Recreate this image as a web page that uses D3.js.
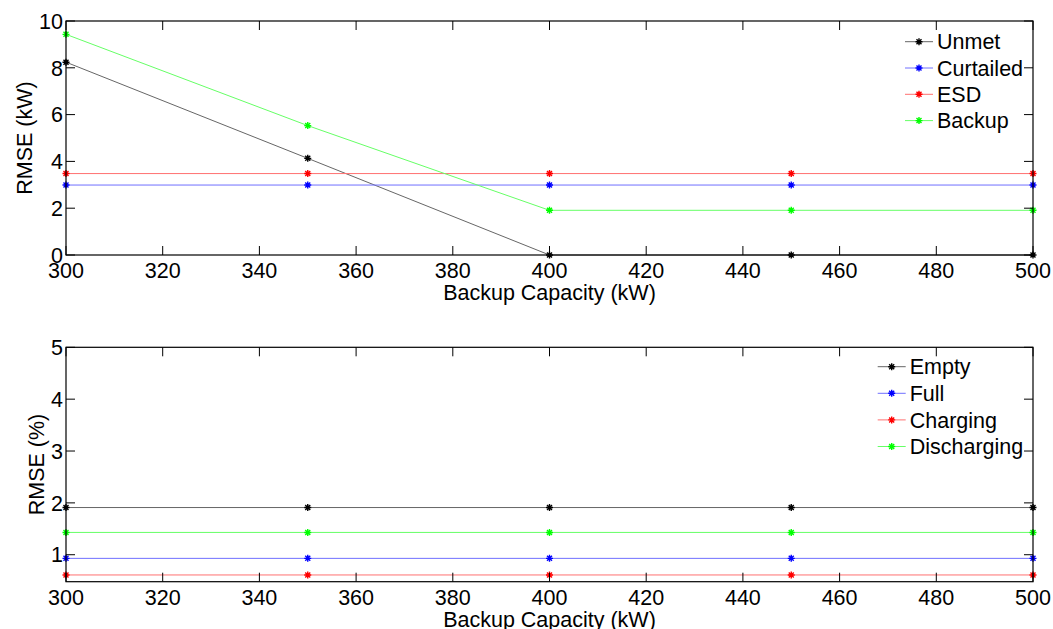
<!DOCTYPE html>
<html>
<head>
<meta charset="utf-8">
<script src="https://cdn.jsdelivr.net/npm/d3@7"></script>
<style>
  html, body { margin: 0; padding: 0; background: #fff; }
  svg { display: block; }
  text { font-family: "Liberation Sans", Arial, Helvetica, sans-serif; fill: #000; }
</style>
</head>
<body>
<svg id="chart" width="1053" height="629"></svg>
<script>
// ---- data ----
const capacity = [300, 350, 400, 450, 500];
const xTicks = [300, 320, 340, 360, 380, 400, 420, 440, 460, 480, 500];

const topNames = ["Unmet", "Curtailed", "ESD", "Backup"];
const unmet     = [8.24, 4.13, 0, 0, 0];
const curtailed = [2.99, 2.99, 2.99, 2.99, 2.99];
const esd       = [3.48, 3.48, 3.48, 3.48, 3.48];
const backup    = [9.43, 5.53, 1.91, 1.91, 1.91];
const topYTicks = [0, 2, 4, 6, 8, 10];

const bottomNames = ["Empty", "Full", "Charging", "Discharging"];
const empty       = [1.91, 1.91, 1.91, 1.91, 1.91];
const full        = [0.93, 0.93, 0.93, 0.93, 0.93];
const charging    = [0.61, 0.61, 0.61, 0.61, 0.61];
const discharging = [1.43, 1.43, 1.43, 1.43, 1.43];
const bottomYTicks = [1, 2, 3, 4, 5];

const seriesColors = ["#000000", "#0000ff", "#ff0000", "#00ff00"];
const lineColors   = ["#666666", "#7070ff", "#ff7070", "#66ff66"];

// ---- drawing ----
const svg = d3.select("#chart");
const FS = 21.5;
const MARK = "M-3.5,0H3.5M0,-3.5V3.5M-2.5,-2.5L2.5,2.5M-2.5,2.5L2.5,-2.5";

function panel(cfg) {
  const x = d3.scaleLinear().domain([300, 500]).range([66, 1033]);
  const y = d3.scaleLinear().domain(cfg.yDomain).range([cfg.bottom, cfg.top]);
  const g = svg.append("g");

  // series
  cfg.series.forEach((vals, i) => {
    const pts = capacity.map((c, j) => [c, vals[j]]);
    g.append("path")
      .datum(pts)
      .attr("fill", "none")
      .attr("stroke", lineColors[i])
      .attr("stroke-width", 1)
      .attr("d", d3.line().x(d => x(d[0])).y(d => y(d[1])));
    g.selectAll(null).data(pts).enter().append("path")
      .attr("transform", d => `translate(${x(d[0])},${y(d[1])})`)
      .attr("d", MARK)
      .attr("stroke", seriesColors[i])
      .attr("stroke-width", 1.4);
  });

  // box
  const x0 = x.range()[0], x1 = x.range()[1];
  g.append("rect")
    .attr("x", x0).attr("y", cfg.top)
    .attr("width", x1 - x0).attr("height", cfg.bottom - cfg.top)
    .attr("fill", "none").attr("stroke", "#000").attr("stroke-width", 1.2);

  // x ticks (inward, bottom and top)
  const TL = 9;
  xTicks.forEach(t => {
    const px = x(t);
    g.append("line").attr("x1", px).attr("x2", px)
      .attr("y1", cfg.bottom).attr("y2", cfg.bottom - TL)
      .attr("stroke", "#000").attr("stroke-width", 1);
    g.append("line").attr("x1", px).attr("x2", px)
      .attr("y1", cfg.top).attr("y2", cfg.top + TL)
      .attr("stroke", "#000").attr("stroke-width", 1);
    g.append("text").attr("x", px).attr("y", cfg.bottom + 23)
      .attr("text-anchor", "middle").attr("font-size", FS).text(t);
  });
  // y ticks (inward, left and right)
  cfg.yTicks.forEach(t => {
    const py = y(t);
    g.append("line").attr("x1", x0).attr("x2", x0 + TL)
      .attr("y1", py).attr("y2", py)
      .attr("stroke", "#000").attr("stroke-width", 1);
    g.append("line").attr("x1", x1).attr("x2", x1 - TL)
      .attr("y1", py).attr("y2", py)
      .attr("stroke", "#000").attr("stroke-width", 1);
    g.append("text").attr("x", x0 - 3).attr("y", py)
      .attr("dy", "0.36em")
      .attr("text-anchor", "end").attr("font-size", FS).text(t);
  });

  // axis labels
  g.append("text").attr("x", (x0 + x1) / 2).attr("y", cfg.bottom + 45)
    .attr("text-anchor", "middle").attr("font-size", FS).text("Backup Capacity (kW)");
  g.append("text")
    .attr("transform", `translate(${cfg.yLabelX},${(cfg.top + cfg.bottom) / 2}) rotate(-90)`)
    .attr("dy", "0.36em")
    .attr("text-anchor", "middle").attr("font-size", FS).text(cfg.yLabel);

  // legend
  cfg.names.forEach((name, i) => {
    const ly = cfg.legendY + i * cfg.legendStep;
    const lx = cfg.legendX;
    g.append("line").attr("x1", lx).attr("x2", lx + 28)
      .attr("y1", ly).attr("y2", ly)
      .attr("stroke", lineColors[i]).attr("stroke-width", 1);
    g.append("path")
      .attr("transform", `translate(${lx + 14},${ly})`)
      .attr("d", MARK)
      .attr("stroke", seriesColors[i]).attr("stroke-width", 1.4);
    g.append("text").attr("x", lx + 32).attr("y", ly)
      .attr("dy", "0.36em").attr("font-size", FS).text(name);
  });
}

panel({
  top: 21, bottom: 255, yDomain: [0, 10], yTicks: topYTicks,
  series: [unmet, curtailed, esd, backup], names: topNames,
  yLabel: "RMSE (kW)", yLabelX: 24,
  legendX: 905, legendY: 41.7, legendStep: 26.3
});
panel({
  top: 347.3, bottom: 581.7, yDomain: [0.48, 5], yTicks: bottomYTicks,
  series: [empty, full, charging, discharging], names: bottomNames,
  yLabel: "RMSE (%)", yLabelX: 36,
  legendX: 877.7, legendY: 366.7, legendStep: 26.6
});
</script>
</body>
</html>
